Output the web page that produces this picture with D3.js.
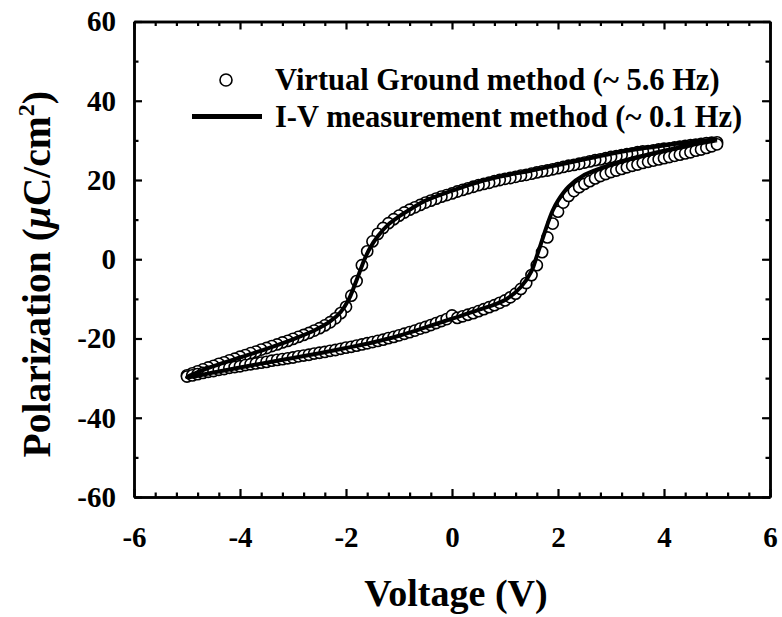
<!DOCTYPE html>
<html>
<head>
<meta charset="utf-8">
<script src="https://cdn.jsdelivr.net/npm/d3@7"></script>
<style>
  html, body { margin: 0; padding: 0; background: #fff; }
  svg { display: block; }
  text { font-family: "Liberation Serif", "Times New Roman", serif; font-weight: bold; fill: #000; }
</style>
</head>
<body>
<svg id="chart" width="782" height="617"></svg>
<script>
// virtual ground method, circles: upper branch (+5 V -> -5 V)
const vgUpperV = [5.0,4.9,4.8,4.7,4.6,4.5,4.4,4.3,4.2,4.1,4.0,3.9,3.8,3.7,3.6,3.5,3.4,3.3,3.2,3.1,3.0,2.9,2.8,2.7,2.6,2.5,2.4,2.3,2.2,2.1,2.0,1.9,1.8,1.7,1.6,1.5,1.4,1.3,1.2,1.1,1.0,0.9,0.8,0.7,0.6,0.5,0.4,0.3,0.2,0.1,0.0,-0.1,-0.2,-0.3,-0.4,-0.5,-0.6,-0.7,-0.8,-0.9,-1.0,-1.1,-1.2,-1.3,-1.4,-1.5,-1.6,-1.7,-1.8,-1.9,-2.0,-2.1,-2.2,-2.3,-2.4,-2.5,-2.6,-2.7,-2.8,-2.9,-3.0,-3.1,-3.2,-3.3,-3.4,-3.5,-3.6,-3.7,-3.8,-3.9,-4.0,-4.1,-4.2,-4.3,-4.4,-4.5,-4.6,-4.7,-4.8,-4.9,-5.0];
const vgUpperP = [29.5,29.4,29.3,29.1,28.9,28.8,28.6,28.4,28.2,28.0,27.9,27.7,27.5,27.3,27.2,27.0,26.7,26.5,26.3,26.0,25.8,25.5,25.2,25.0,24.7,24.4,24.1,23.8,23.6,23.3,23.0,22.7,22.4,22.2,21.9,21.6,21.3,21.1,20.8,20.5,20.3,20.0,19.7,19.3,19.0,18.7,18.3,17.9,17.5,17.1,16.6,16.2,15.8,15.3,14.8,14.3,13.7,13.1,12.5,11.8,11.0,10.1,9.1,7.9,6.4,4.5,2.0,-1.5,-5.5,-9.2,-12.0,-13.6,-14.9,-15.9,-16.7,-17.4,-18.0,-18.6,-19.1,-19.6,-20.1,-20.6,-21.0,-21.5,-21.9,-22.4,-22.8,-23.3,-23.7,-24.2,-24.6,-25.1,-25.5,-26.0,-26.4,-26.9,-27.3,-27.8,-28.3,-28.8,-29.3];

// virtual ground method, circles: lower branch (-5 V -> +5 V)
const vgLowerV = [-5.0,-4.9,-4.8,-4.7,-4.6,-4.5,-4.4,-4.3,-4.2,-4.1,-4.0,-3.9,-3.8,-3.7,-3.6,-3.5,-3.4,-3.3,-3.2,-3.1,-3.0,-2.9,-2.8,-2.7,-2.6,-2.5,-2.4,-2.3,-2.2,-2.1,-2.0,-1.9,-1.8,-1.7,-1.6,-1.5,-1.4,-1.3,-1.2,-1.1,-1.0,-0.9,-0.8,-0.7,-0.6,-0.5,-0.4,-0.3,-0.2,-0.1,0.0,0.1,0.2,0.3,0.4,0.5,0.6,0.7,0.8,0.9,1.0,1.1,1.2,1.3,1.4,1.5,1.6,1.7,1.8,1.9,2.0,2.1,2.2,2.3,2.4,2.5,2.6,2.7,2.8,2.9,3.0,3.1,3.2,3.3,3.4,3.5,3.6,3.7,3.8,3.9,4.0,4.1,4.2,4.3,4.4,4.5,4.6,4.7,4.8,4.9,5.0];
const vgLowerP = [-29.6,-29.3,-29.0,-28.7,-28.4,-28.2,-27.9,-27.7,-27.4,-27.2,-27.0,-26.7,-26.5,-26.3,-26.1,-25.9,-25.6,-25.4,-25.2,-25.0,-24.8,-24.5,-24.3,-24.1,-23.8,-23.6,-23.4,-23.1,-22.9,-22.6,-22.3,-22.1,-21.8,-21.5,-21.2,-20.9,-20.6,-20.3,-19.9,-19.6,-19.2,-18.8,-18.4,-18.0,-17.5,-17.1,-16.6,-16.1,-15.6,-15.1,-14.2,-14.8,-14.4,-14.0,-13.6,-13.1,-12.6,-12.1,-11.6,-11.0,-10.4,-9.6,-8.7,-7.5,-6.0,-4.0,-1.5,1.8,5.5,9.0,12.0,14.3,16.0,17.2,18.2,19.0,19.7,20.4,21.0,21.5,22.0,22.4,22.8,23.2,23.6,23.9,24.3,24.6,24.9,25.2,25.5,25.8,26.1,26.4,26.7,27.0,27.4,27.7,28.1,28.5,29.0];

// I-V measurement method, line (+5 -> -5 -> +5)
const ivV = [5.0,4.5,4.0,3.5,3.0,2.5,2.0,1.5,1.0,0.5,0.0,-0.5,-0.8,-1.0,-1.2,-1.4,-1.55,-1.65,-1.75,-1.85,-1.95,-2.1,-2.3,-2.6,-3.0,-3.5,-4.0,-4.5,-5.0,
  -4.5,-4.0,-3.5,-3.0,-2.5,-2.0,-1.5,-1.0,-0.5,0.0,0.5,1.0,1.3,1.5,1.6,1.7,1.8,1.9,2.0,2.2,2.5,3.0,3.5,4.0,4.5,5.0];
const ivP = [30.3,29.6,28.7,27.8,26.6,25.2,23.8,22.4,21.1,19.5,17.3,14.8,12.5,10.8,8.8,5.8,2.8,0.0,-3.5,-7.0,-10.2,-13.3,-15.7,-18.0,-20.2,-22.6,-24.8,-27.0,-29.8,
  -28.6,-27.3,-26.1,-24.9,-23.7,-22.4,-21.0,-19.3,-17.2,-15.0,-12.8,-10.3,-7.0,-3.0,0.8,4.8,8.8,12.3,14.8,18.3,21.3,23.9,25.8,27.4,28.8,30.0];

const xMajor = [-6,-4,-2,0,2,4,6];
const yMajor = [-60,-40,-20,0,20,40,60];
const legendLabels = ['Virtual Ground method (~ 5.6 Hz)', 'I-V measurement method (~ 0.1 Hz)'];

const margin = { left: 134, right: 12, top: 21.5, bottom: 120 };
const W = 782, H = 617;
const svg = d3.select('#chart');

const x = d3.scaleLinear().domain([-6, 6]).range([margin.left, W - margin.right]);
const y = d3.scaleLinear().domain([-60, 60]).range([H - margin.bottom, margin.top]);

const xMinor = d3.range(-6, 6.001, 0.4).filter(v => !xMajor.some(m => Math.abs(m - v) < 1e-6));
const yMinor = d3.range(-60, 61, 10).filter(v => !yMajor.includes(v));

function styleAxis(g) {
  g.select('.domain').attr('stroke', '#000').attr('stroke-width', 2.5);
  g.selectAll('.tick line').attr('stroke', '#000').attr('stroke-width', 2.2);
  g.selectAll('.tick text').attr('font-size', 29).attr('fill', '#000')
    .attr('font-family', '"Liberation Serif", "Times New Roman", serif').attr('font-weight', 'bold');
}

const fmt = d => String(d); // plain hyphen like the original, not U+2212
const xb = H - margin.bottom, yl = margin.left, xt = margin.top, yr = W - margin.right;

// bottom
svg.append('g').attr('transform', `translate(0,${xb})`)
  .call(d3.axisBottom(x).tickValues(xMajor).tickFormat(fmt).tickSize(-8).tickSizeOuter(0).tickPadding(29))
  .call(styleAxis);
svg.append('g').attr('transform', `translate(0,${xb})`)
  .call(d3.axisBottom(x).tickValues(xMinor).tickFormat('').tickSize(-4.5).tickSizeOuter(0))
  .call(styleAxis);
// top
svg.append('g').attr('transform', `translate(0,${xt})`)
  .call(d3.axisTop(x).tickValues(xMajor).tickFormat('').tickSize(-8).tickSizeOuter(0))
  .call(styleAxis);
svg.append('g').attr('transform', `translate(0,${xt})`)
  .call(d3.axisTop(x).tickValues(xMinor).tickFormat('').tickSize(-4.5).tickSizeOuter(0))
  .call(styleAxis);
// left
svg.append('g').attr('transform', `translate(${yl},0)`)
  .call(d3.axisLeft(y).tickValues(yMajor).tickFormat(fmt).tickSize(-8).tickSizeOuter(0).tickPadding(18))
  .call(styleAxis);
svg.append('g').attr('transform', `translate(${yl},0)`)
  .call(d3.axisLeft(y).tickValues(yMinor).tickFormat('').tickSize(-4.5).tickSizeOuter(0))
  .call(styleAxis);
// right
svg.append('g').attr('transform', `translate(${yr},0)`)
  .call(d3.axisRight(y).tickValues(yMajor).tickFormat('').tickSize(-8).tickSizeOuter(0))
  .call(styleAxis);
svg.append('g').attr('transform', `translate(${yr},0)`)
  .call(d3.axisRight(y).tickValues(yMinor).tickFormat('').tickSize(-4.5).tickSizeOuter(0))
  .call(styleAxis);

// data
const circles = vgUpperV.map((v, i) => ({ v, p: vgUpperP[i] }))
  .concat(vgLowerV.map((v, i) => ({ v, p: vgLowerP[i] })));
const ivPts = ivV.map((v, i) => ({ v, p: ivP[i] }));

svg.append('g').selectAll('circle')
  .data(circles)
  .join('circle')
  .attr('cx', d => x(d.v))
  .attr('cy', d => y(d.p))
  .attr('r', 5.6)
  .attr('fill', '#fff')
  .attr('stroke', '#000')
  .attr('stroke-width', 1.6);

const line = d3.line().x(d => x(d.v)).y(d => y(d.p)).curve(d3.curveCatmullRom.alpha(0.5));
svg.append('path')
  .datum(ivPts)
  .attr('d', line)
  .attr('fill', 'none')
  .attr('stroke', '#000')
  .attr('stroke-width', 4);

// legend
const lg = svg.append('g');
lg.append('circle').attr('cx', 226).attr('cy', 80).attr('r', 6)
  .attr('fill', '#fff').attr('stroke', '#000').attr('stroke-width', 1.6);
lg.append('line').attr('x1', 192).attr('x2', 262).attr('y1', 116.5).attr('y2', 116.5)
  .attr('stroke', '#000').attr('stroke-width', 5);
lg.selectAll('text').data(legendLabels).join('text')
  .attr('x', 275)
  .attr('y', (d, i) => 90 + i * 37)
  .attr('font-size', 30.5)
  .text(d => d);

// axis titles
svg.append('text')
  .attr('x', x(0) + 4)
  .attr('y', 606)
  .attr('text-anchor', 'middle')
  .attr('font-size', 38)
  .text('Voltage (V)');

const yt = svg.append('text')
  .attr('transform', `translate(50,${y(0) + 15}) rotate(-90)`)
  .attr('text-anchor', 'middle')
  .attr('font-size', 39.5);
yt.append('tspan').text('Polarization (');
yt.append('tspan').attr('font-style', 'italic').text('μ');
yt.append('tspan').text('C/cm');
yt.append('tspan').attr('font-size', 24).attr('dy', -16).text('2');
yt.append('tspan').attr('dy', 16).text(')');
</script>
</body>
</html>
